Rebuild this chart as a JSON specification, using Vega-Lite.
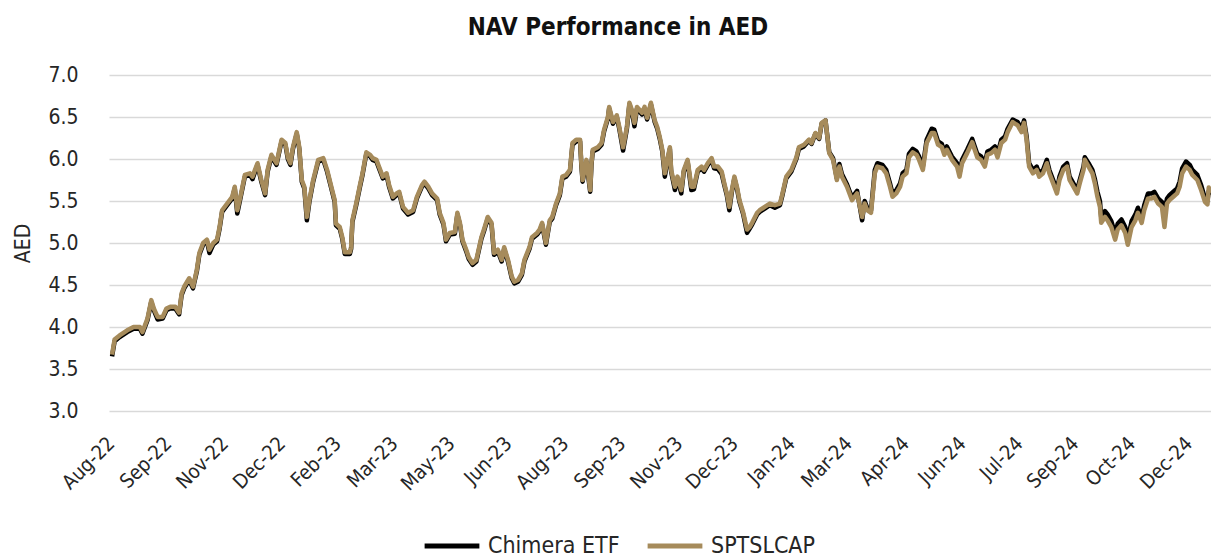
{
  "$schema": "https://vega.github.io/schema/vega-lite/v6.json",
  "width": 1102,
  "height": 336,
  "autosize": {"type": "none"},
  "padding": {"left": 109, "top": 75, "right": 0, "bottom": 147},
  "background": "white",
  "config": {"view": {"stroke": null}, "font": "'DejaVu Sans Condensed', 'DejaVu Sans', sans-serif"},
  "title": {"text": "NAV Performance in AED", "fontSize": 24, "fontWeight": "bold", "color": "#111111", "anchor": "middle", "dx": -42, "offset": 24, "font": "'DejaVu Sans Condensed', 'DejaVu Sans', sans-serif"},
  "data": {"values": [
    {"date": "2022-08-10", "Chimera ETF": 3.65, "SPTSLCAP": 3.67},
    {"date": "2022-08-12", "Chimera ETF": 3.83, "SPTSLCAP": 3.85},
    {"date": "2022-08-16", "Chimera ETF": 3.88, "SPTSLCAP": 3.90},
    {"date": "2022-08-22", "Chimera ETF": 3.94, "SPTSLCAP": 3.96},
    {"date": "2022-08-27", "Chimera ETF": 3.98, "SPTSLCAP": 4.00},
    {"date": "2022-09-01", "Chimera ETF": 3.98, "SPTSLCAP": 4.00},
    {"date": "2022-09-03", "Chimera ETF": 3.92, "SPTSLCAP": 3.94},
    {"date": "2022-09-07", "Chimera ETF": 4.08, "SPTSLCAP": 4.10},
    {"date": "2022-09-10", "Chimera ETF": 4.30, "SPTSLCAP": 4.32},
    {"date": "2022-09-12", "Chimera ETF": 4.20, "SPTSLCAP": 4.22},
    {"date": "2022-09-15", "Chimera ETF": 4.09, "SPTSLCAP": 4.12},
    {"date": "2022-09-19", "Chimera ETF": 4.10, "SPTSLCAP": 4.12},
    {"date": "2022-09-22", "Chimera ETF": 4.20, "SPTSLCAP": 4.22},
    {"date": "2022-09-25", "Chimera ETF": 4.22, "SPTSLCAP": 4.24},
    {"date": "2022-09-29", "Chimera ETF": 4.22, "SPTSLCAP": 4.24},
    {"date": "2022-10-02", "Chimera ETF": 4.15, "SPTSLCAP": 4.17},
    {"date": "2022-10-04", "Chimera ETF": 4.38, "SPTSLCAP": 4.40},
    {"date": "2022-10-06", "Chimera ETF": 4.46, "SPTSLCAP": 4.48},
    {"date": "2022-10-10", "Chimera ETF": 4.56, "SPTSLCAP": 4.58},
    {"date": "2022-10-13", "Chimera ETF": 4.46, "SPTSLCAP": 4.48},
    {"date": "2022-10-16", "Chimera ETF": 4.66, "SPTSLCAP": 4.68},
    {"date": "2022-10-18", "Chimera ETF": 4.86, "SPTSLCAP": 4.88},
    {"date": "2022-10-21", "Chimera ETF": 4.98, "SPTSLCAP": 5.00},
    {"date": "2022-10-24", "Chimera ETF": 5.02, "SPTSLCAP": 5.04},
    {"date": "2022-10-26", "Chimera ETF": 4.88, "SPTSLCAP": 4.92},
    {"date": "2022-10-29", "Chimera ETF": 4.98, "SPTSLCAP": 5.00},
    {"date": "2022-11-01", "Chimera ETF": 5.02, "SPTSLCAP": 5.04},
    {"date": "2022-11-03", "Chimera ETF": 5.17, "SPTSLCAP": 5.19},
    {"date": "2022-11-05", "Chimera ETF": 5.37, "SPTSLCAP": 5.39},
    {"date": "2022-11-09", "Chimera ETF": 5.45, "SPTSLCAP": 5.47},
    {"date": "2022-11-13", "Chimera ETF": 5.53, "SPTSLCAP": 5.55},
    {"date": "2022-11-15", "Chimera ETF": 5.65, "SPTSLCAP": 5.67},
    {"date": "2022-11-17", "Chimera ETF": 5.35, "SPTSLCAP": 5.39},
    {"date": "2022-11-20", "Chimera ETF": 5.57, "SPTSLCAP": 5.59},
    {"date": "2022-11-23", "Chimera ETF": 5.79, "SPTSLCAP": 5.81},
    {"date": "2022-11-27", "Chimera ETF": 5.81, "SPTSLCAP": 5.83},
    {"date": "2022-11-29", "Chimera ETF": 5.76, "SPTSLCAP": 5.79},
    {"date": "2022-12-02", "Chimera ETF": 5.89, "SPTSLCAP": 5.91},
    {"date": "2022-12-03", "Chimera ETF": 5.93, "SPTSLCAP": 5.95},
    {"date": "2022-12-06", "Chimera ETF": 5.73, "SPTSLCAP": 5.75},
    {"date": "2022-12-09", "Chimera ETF": 5.57, "SPTSLCAP": 5.59},
    {"date": "2022-12-11", "Chimera ETF": 5.85, "SPTSLCAP": 5.87},
    {"date": "2022-12-14", "Chimera ETF": 6.03, "SPTSLCAP": 6.05},
    {"date": "2022-12-18", "Chimera ETF": 5.93, "SPTSLCAP": 5.95},
    {"date": "2022-12-22", "Chimera ETF": 6.21, "SPTSLCAP": 6.23},
    {"date": "2022-12-25", "Chimera ETF": 6.17, "SPTSLCAP": 6.19},
    {"date": "2022-12-27", "Chimera ETF": 6.00, "SPTSLCAP": 6.02},
    {"date": "2022-12-29", "Chimera ETF": 5.93, "SPTSLCAP": 5.95},
    {"date": "2022-12-31", "Chimera ETF": 6.12, "SPTSLCAP": 6.14},
    {"date": "2023-01-03", "Chimera ETF": 6.30, "SPTSLCAP": 6.32},
    {"date": "2023-01-05", "Chimera ETF": 6.12, "SPTSLCAP": 6.14},
    {"date": "2023-01-07", "Chimera ETF": 5.73, "SPTSLCAP": 5.75},
    {"date": "2023-01-09", "Chimera ETF": 5.65, "SPTSLCAP": 5.67},
    {"date": "2023-01-11", "Chimera ETF": 5.27, "SPTSLCAP": 5.31},
    {"date": "2023-01-13", "Chimera ETF": 5.49, "SPTSLCAP": 5.51},
    {"date": "2023-01-16", "Chimera ETF": 5.73, "SPTSLCAP": 5.75},
    {"date": "2023-01-20", "Chimera ETF": 5.97, "SPTSLCAP": 5.99},
    {"date": "2023-01-24", "Chimera ETF": 5.99, "SPTSLCAP": 6.01},
    {"date": "2023-01-27", "Chimera ETF": 5.85, "SPTSLCAP": 5.87},
    {"date": "2023-01-31", "Chimera ETF": 5.61, "SPTSLCAP": 5.63},
    {"date": "2023-02-02", "Chimera ETF": 5.49, "SPTSLCAP": 5.51},
    {"date": "2023-02-03", "Chimera ETF": 5.21, "SPTSLCAP": 5.23},
    {"date": "2023-02-06", "Chimera ETF": 5.17, "SPTSLCAP": 5.19},
    {"date": "2023-02-08", "Chimera ETF": 5.05, "SPTSLCAP": 5.07},
    {"date": "2023-02-10", "Chimera ETF": 4.87, "SPTSLCAP": 4.89},
    {"date": "2023-02-14", "Chimera ETF": 4.87, "SPTSLCAP": 4.89},
    {"date": "2023-02-15", "Chimera ETF": 4.93, "SPTSLCAP": 4.95},
    {"date": "2023-02-16", "Chimera ETF": 5.25, "SPTSLCAP": 5.27},
    {"date": "2023-02-19", "Chimera ETF": 5.45, "SPTSLCAP": 5.47},
    {"date": "2023-02-22", "Chimera ETF": 5.67, "SPTSLCAP": 5.69},
    {"date": "2023-02-24", "Chimera ETF": 5.81, "SPTSLCAP": 5.83},
    {"date": "2023-02-27", "Chimera ETF": 6.06, "SPTSLCAP": 6.08},
    {"date": "2023-03-02", "Chimera ETF": 6.03, "SPTSLCAP": 6.05},
    {"date": "2023-03-04", "Chimera ETF": 5.99, "SPTSLCAP": 6.01},
    {"date": "2023-03-07", "Chimera ETF": 5.97, "SPTSLCAP": 5.99},
    {"date": "2023-03-09", "Chimera ETF": 5.89, "SPTSLCAP": 5.91},
    {"date": "2023-03-12", "Chimera ETF": 5.77, "SPTSLCAP": 5.79},
    {"date": "2023-03-15", "Chimera ETF": 5.81, "SPTSLCAP": 5.83},
    {"date": "2023-03-17", "Chimera ETF": 5.67, "SPTSLCAP": 5.69},
    {"date": "2023-03-20", "Chimera ETF": 5.53, "SPTSLCAP": 5.55},
    {"date": "2023-03-23", "Chimera ETF": 5.57, "SPTSLCAP": 5.59},
    {"date": "2023-03-25", "Chimera ETF": 5.59, "SPTSLCAP": 5.61},
    {"date": "2023-03-28", "Chimera ETF": 5.41, "SPTSLCAP": 5.43},
    {"date": "2023-04-01", "Chimera ETF": 5.34, "SPTSLCAP": 5.36},
    {"date": "2023-04-05", "Chimera ETF": 5.37, "SPTSLCAP": 5.39},
    {"date": "2023-04-08", "Chimera ETF": 5.53, "SPTSLCAP": 5.55},
    {"date": "2023-04-12", "Chimera ETF": 5.67, "SPTSLCAP": 5.69},
    {"date": "2023-04-14", "Chimera ETF": 5.71, "SPTSLCAP": 5.73},
    {"date": "2023-04-17", "Chimera ETF": 5.65, "SPTSLCAP": 5.67},
    {"date": "2023-04-20", "Chimera ETF": 5.57, "SPTSLCAP": 5.59},
    {"date": "2023-04-24", "Chimera ETF": 5.51, "SPTSLCAP": 5.53},
    {"date": "2023-04-26", "Chimera ETF": 5.34, "SPTSLCAP": 5.36},
    {"date": "2023-04-29", "Chimera ETF": 5.22, "SPTSLCAP": 5.24},
    {"date": "2023-05-01", "Chimera ETF": 5.02, "SPTSLCAP": 5.04},
    {"date": "2023-05-04", "Chimera ETF": 5.10, "SPTSLCAP": 5.12},
    {"date": "2023-05-08", "Chimera ETF": 5.11, "SPTSLCAP": 5.13},
    {"date": "2023-05-10", "Chimera ETF": 5.34, "SPTSLCAP": 5.36},
    {"date": "2023-05-12", "Chimera ETF": 5.22, "SPTSLCAP": 5.24},
    {"date": "2023-05-14", "Chimera ETF": 5.02, "SPTSLCAP": 5.04},
    {"date": "2023-05-17", "Chimera ETF": 4.90, "SPTSLCAP": 4.92},
    {"date": "2023-05-19", "Chimera ETF": 4.81, "SPTSLCAP": 4.83},
    {"date": "2023-05-22", "Chimera ETF": 4.74, "SPTSLCAP": 4.76},
    {"date": "2023-05-25", "Chimera ETF": 4.78, "SPTSLCAP": 4.80},
    {"date": "2023-05-29", "Chimera ETF": 5.05, "SPTSLCAP": 5.07},
    {"date": "2023-05-31", "Chimera ETF": 5.14, "SPTSLCAP": 5.16},
    {"date": "2023-06-03", "Chimera ETF": 5.29, "SPTSLCAP": 5.31},
    {"date": "2023-06-06", "Chimera ETF": 5.22, "SPTSLCAP": 5.24},
    {"date": "2023-06-08", "Chimera ETF": 4.86, "SPTSLCAP": 4.88},
    {"date": "2023-06-11", "Chimera ETF": 4.90, "SPTSLCAP": 4.92},
    {"date": "2023-06-14", "Chimera ETF": 4.78, "SPTSLCAP": 4.80},
    {"date": "2023-06-16", "Chimera ETF": 4.93, "SPTSLCAP": 4.95},
    {"date": "2023-06-19", "Chimera ETF": 4.78, "SPTSLCAP": 4.80},
    {"date": "2023-06-22", "Chimera ETF": 4.58, "SPTSLCAP": 4.60},
    {"date": "2023-06-24", "Chimera ETF": 4.52, "SPTSLCAP": 4.54},
    {"date": "2023-06-27", "Chimera ETF": 4.54, "SPTSLCAP": 4.56},
    {"date": "2023-06-30", "Chimera ETF": 4.62, "SPTSLCAP": 4.64},
    {"date": "2023-07-02", "Chimera ETF": 4.78, "SPTSLCAP": 4.80},
    {"date": "2023-07-06", "Chimera ETF": 4.93, "SPTSLCAP": 4.95},
    {"date": "2023-07-08", "Chimera ETF": 5.05, "SPTSLCAP": 5.07},
    {"date": "2023-07-12", "Chimera ETF": 5.10, "SPTSLCAP": 5.12},
    {"date": "2023-07-14", "Chimera ETF": 5.14, "SPTSLCAP": 5.16},
    {"date": "2023-07-16", "Chimera ETF": 5.22, "SPTSLCAP": 5.24},
    {"date": "2023-07-19", "Chimera ETF": 4.98, "SPTSLCAP": 5.00},
    {"date": "2023-07-22", "Chimera ETF": 5.25, "SPTSLCAP": 5.27},
    {"date": "2023-07-24", "Chimera ETF": 5.29, "SPTSLCAP": 5.31},
    {"date": "2023-07-27", "Chimera ETF": 5.45, "SPTSLCAP": 5.47},
    {"date": "2023-07-30", "Chimera ETF": 5.57, "SPTSLCAP": 5.59},
    {"date": "2023-08-01", "Chimera ETF": 5.77, "SPTSLCAP": 5.79},
    {"date": "2023-08-04", "Chimera ETF": 5.79, "SPTSLCAP": 5.81},
    {"date": "2023-08-07", "Chimera ETF": 5.85, "SPTSLCAP": 5.87},
    {"date": "2023-08-09", "Chimera ETF": 6.17, "SPTSLCAP": 6.19},
    {"date": "2023-08-12", "Chimera ETF": 6.21, "SPTSLCAP": 6.23},
    {"date": "2023-08-15", "Chimera ETF": 6.21, "SPTSLCAP": 6.23},
    {"date": "2023-08-16", "Chimera ETF": 5.93, "SPTSLCAP": 5.95},
    {"date": "2023-08-17", "Chimera ETF": 5.73, "SPTSLCAP": 5.75},
    {"date": "2023-08-20", "Chimera ETF": 5.97, "SPTSLCAP": 5.99},
    {"date": "2023-08-23", "Chimera ETF": 5.61, "SPTSLCAP": 5.63},
    {"date": "2023-08-24", "Chimera ETF": 5.93, "SPTSLCAP": 5.95},
    {"date": "2023-08-25", "Chimera ETF": 6.09, "SPTSLCAP": 6.11},
    {"date": "2023-08-29", "Chimera ETF": 6.12, "SPTSLCAP": 6.14},
    {"date": "2023-09-01", "Chimera ETF": 6.17, "SPTSLCAP": 6.19},
    {"date": "2023-09-03", "Chimera ETF": 6.33, "SPTSLCAP": 6.35},
    {"date": "2023-09-06", "Chimera ETF": 6.48, "SPTSLCAP": 6.50},
    {"date": "2023-09-07", "Chimera ETF": 6.60, "SPTSLCAP": 6.62},
    {"date": "2023-09-10", "Chimera ETF": 6.42, "SPTSLCAP": 6.44},
    {"date": "2023-09-13", "Chimera ETF": 6.50, "SPTSLCAP": 6.52},
    {"date": "2023-09-15", "Chimera ETF": 6.36, "SPTSLCAP": 6.38},
    {"date": "2023-09-18", "Chimera ETF": 6.10, "SPTSLCAP": 6.14},
    {"date": "2023-09-21", "Chimera ETF": 6.36, "SPTSLCAP": 6.38},
    {"date": "2023-09-23", "Chimera ETF": 6.65, "SPTSLCAP": 6.67},
    {"date": "2023-09-25", "Chimera ETF": 6.56, "SPTSLCAP": 6.58},
    {"date": "2023-09-27", "Chimera ETF": 6.39, "SPTSLCAP": 6.43},
    {"date": "2023-09-29", "Chimera ETF": 6.60, "SPTSLCAP": 6.62},
    {"date": "2023-10-03", "Chimera ETF": 6.53, "SPTSLCAP": 6.55},
    {"date": "2023-10-05", "Chimera ETF": 6.60, "SPTSLCAP": 6.62},
    {"date": "2023-10-07", "Chimera ETF": 6.47, "SPTSLCAP": 6.49},
    {"date": "2023-10-10", "Chimera ETF": 6.65, "SPTSLCAP": 6.67},
    {"date": "2023-10-13", "Chimera ETF": 6.44, "SPTSLCAP": 6.46},
    {"date": "2023-10-15", "Chimera ETF": 6.36, "SPTSLCAP": 6.38},
    {"date": "2023-10-17", "Chimera ETF": 6.24, "SPTSLCAP": 6.26},
    {"date": "2023-10-19", "Chimera ETF": 6.09, "SPTSLCAP": 6.11},
    {"date": "2023-10-21", "Chimera ETF": 5.79, "SPTSLCAP": 5.83},
    {"date": "2023-10-23", "Chimera ETF": 5.97, "SPTSLCAP": 5.99},
    {"date": "2023-10-25", "Chimera ETF": 6.12, "SPTSLCAP": 6.14},
    {"date": "2023-10-26", "Chimera ETF": 5.85, "SPTSLCAP": 5.87},
    {"date": "2023-10-29", "Chimera ETF": 5.63, "SPTSLCAP": 5.67},
    {"date": "2023-10-31", "Chimera ETF": 5.77, "SPTSLCAP": 5.79},
    {"date": "2023-11-03", "Chimera ETF": 5.59, "SPTSLCAP": 5.63},
    {"date": "2023-11-05", "Chimera ETF": 5.85, "SPTSLCAP": 5.87},
    {"date": "2023-11-08", "Chimera ETF": 5.97, "SPTSLCAP": 5.99},
    {"date": "2023-11-11", "Chimera ETF": 5.63, "SPTSLCAP": 5.67},
    {"date": "2023-11-13", "Chimera ETF": 5.64, "SPTSLCAP": 5.67},
    {"date": "2023-11-16", "Chimera ETF": 5.85, "SPTSLCAP": 5.87},
    {"date": "2023-11-19", "Chimera ETF": 5.89, "SPTSLCAP": 5.91},
    {"date": "2023-11-21", "Chimera ETF": 5.85, "SPTSLCAP": 5.87},
    {"date": "2023-11-24", "Chimera ETF": 5.93, "SPTSLCAP": 5.95},
    {"date": "2023-11-27", "Chimera ETF": 5.99, "SPTSLCAP": 6.01},
    {"date": "2023-11-29", "Chimera ETF": 5.89, "SPTSLCAP": 5.91},
    {"date": "2023-12-02", "Chimera ETF": 5.88, "SPTSLCAP": 5.91},
    {"date": "2023-12-05", "Chimera ETF": 5.82, "SPTSLCAP": 5.85},
    {"date": "2023-12-07", "Chimera ETF": 5.69, "SPTSLCAP": 5.71},
    {"date": "2023-12-09", "Chimera ETF": 5.57, "SPTSLCAP": 5.59},
    {"date": "2023-12-11", "Chimera ETF": 5.39, "SPTSLCAP": 5.43},
    {"date": "2023-12-13", "Chimera ETF": 5.61, "SPTSLCAP": 5.63},
    {"date": "2023-12-15", "Chimera ETF": 5.77, "SPTSLCAP": 5.79},
    {"date": "2023-12-17", "Chimera ETF": 5.65, "SPTSLCAP": 5.67},
    {"date": "2023-12-19", "Chimera ETF": 5.49, "SPTSLCAP": 5.51},
    {"date": "2023-12-22", "Chimera ETF": 5.34, "SPTSLCAP": 5.36},
    {"date": "2023-12-25", "Chimera ETF": 5.12, "SPTSLCAP": 5.16},
    {"date": "2023-12-27", "Chimera ETF": 5.17, "SPTSLCAP": 5.19},
    {"date": "2023-12-29", "Chimera ETF": 5.22, "SPTSLCAP": 5.24},
    {"date": "2024-01-02", "Chimera ETF": 5.34, "SPTSLCAP": 5.36},
    {"date": "2024-01-04", "Chimera ETF": 5.37, "SPTSLCAP": 5.39},
    {"date": "2024-01-08", "Chimera ETF": 5.41, "SPTSLCAP": 5.43},
    {"date": "2024-01-12", "Chimera ETF": 5.45, "SPTSLCAP": 5.47},
    {"date": "2024-01-16", "Chimera ETF": 5.42, "SPTSLCAP": 5.45},
    {"date": "2024-01-20", "Chimera ETF": 5.45, "SPTSLCAP": 5.47},
    {"date": "2024-01-22", "Chimera ETF": 5.57, "SPTSLCAP": 5.59},
    {"date": "2024-01-25", "Chimera ETF": 5.77, "SPTSLCAP": 5.79},
    {"date": "2024-01-29", "Chimera ETF": 5.85, "SPTSLCAP": 5.87},
    {"date": "2024-02-02", "Chimera ETF": 6.00, "SPTSLCAP": 6.02},
    {"date": "2024-02-04", "Chimera ETF": 6.12, "SPTSLCAP": 6.14},
    {"date": "2024-02-08", "Chimera ETF": 6.15, "SPTSLCAP": 6.17},
    {"date": "2024-02-12", "Chimera ETF": 6.22, "SPTSLCAP": 6.23},
    {"date": "2024-02-14", "Chimera ETF": 6.18, "SPTSLCAP": 6.19},
    {"date": "2024-02-17", "Chimera ETF": 6.30, "SPTSLCAP": 6.31},
    {"date": "2024-02-20", "Chimera ETF": 6.24, "SPTSLCAP": 6.25},
    {"date": "2024-02-22", "Chimera ETF": 6.42, "SPTSLCAP": 6.43},
    {"date": "2024-02-25", "Chimera ETF": 6.46, "SPTSLCAP": 6.46},
    {"date": "2024-02-28", "Chimera ETF": 6.08, "SPTSLCAP": 6.07},
    {"date": "2024-03-02", "Chimera ETF": 6.01, "SPTSLCAP": 5.99},
    {"date": "2024-03-05", "Chimera ETF": 5.77, "SPTSLCAP": 5.75},
    {"date": "2024-03-07", "Chimera ETF": 5.94, "SPTSLCAP": 5.91},
    {"date": "2024-03-09", "Chimera ETF": 5.82, "SPTSLCAP": 5.79},
    {"date": "2024-03-13", "Chimera ETF": 5.70, "SPTSLCAP": 5.67},
    {"date": "2024-03-15", "Chimera ETF": 5.62, "SPTSLCAP": 5.59},
    {"date": "2024-03-17", "Chimera ETF": 5.54, "SPTSLCAP": 5.51},
    {"date": "2024-03-21", "Chimera ETF": 5.62, "SPTSLCAP": 5.59},
    {"date": "2024-03-25", "Chimera ETF": 5.27, "SPTSLCAP": 5.31},
    {"date": "2024-03-27", "Chimera ETF": 5.50, "SPTSLCAP": 5.47},
    {"date": "2024-03-29", "Chimera ETF": 5.42, "SPTSLCAP": 5.39},
    {"date": "2024-04-01", "Chimera ETF": 5.39, "SPTSLCAP": 5.36},
    {"date": "2024-04-04", "Chimera ETF": 5.87, "SPTSLCAP": 5.83},
    {"date": "2024-04-06", "Chimera ETF": 5.95, "SPTSLCAP": 5.91},
    {"date": "2024-04-10", "Chimera ETF": 5.93, "SPTSLCAP": 5.89},
    {"date": "2024-04-13", "Chimera ETF": 5.87, "SPTSLCAP": 5.83},
    {"date": "2024-04-16", "Chimera ETF": 5.71, "SPTSLCAP": 5.67},
    {"date": "2024-04-18", "Chimera ETF": 5.59, "SPTSLCAP": 5.55},
    {"date": "2024-04-21", "Chimera ETF": 5.63, "SPTSLCAP": 5.59},
    {"date": "2024-04-24", "Chimera ETF": 5.71, "SPTSLCAP": 5.67},
    {"date": "2024-04-26", "Chimera ETF": 5.83, "SPTSLCAP": 5.79},
    {"date": "2024-04-29", "Chimera ETF": 5.87, "SPTSLCAP": 5.83},
    {"date": "2024-05-01", "Chimera ETF": 6.06, "SPTSLCAP": 6.02},
    {"date": "2024-05-04", "Chimera ETF": 6.12, "SPTSLCAP": 6.08},
    {"date": "2024-05-07", "Chimera ETF": 6.09, "SPTSLCAP": 6.05},
    {"date": "2024-05-09", "Chimera ETF": 6.03, "SPTSLCAP": 5.99},
    {"date": "2024-05-12", "Chimera ETF": 5.91, "SPTSLCAP": 5.87},
    {"date": "2024-05-15", "Chimera ETF": 6.23, "SPTSLCAP": 6.19},
    {"date": "2024-05-19", "Chimera ETF": 6.36, "SPTSLCAP": 6.31},
    {"date": "2024-05-21", "Chimera ETF": 6.35, "SPTSLCAP": 6.31},
    {"date": "2024-05-24", "Chimera ETF": 6.21, "SPTSLCAP": 6.17},
    {"date": "2024-05-27", "Chimera ETF": 6.18, "SPTSLCAP": 6.14},
    {"date": "2024-05-29", "Chimera ETF": 6.09, "SPTSLCAP": 6.05},
    {"date": "2024-05-31", "Chimera ETF": 6.15, "SPTSLCAP": 6.11},
    {"date": "2024-06-04", "Chimera ETF": 6.03, "SPTSLCAP": 5.99},
    {"date": "2024-06-08", "Chimera ETF": 5.95, "SPTSLCAP": 5.91},
    {"date": "2024-06-10", "Chimera ETF": 5.83, "SPTSLCAP": 5.79},
    {"date": "2024-06-12", "Chimera ETF": 5.99, "SPTSLCAP": 5.95},
    {"date": "2024-06-16", "Chimera ETF": 6.11, "SPTSLCAP": 6.07},
    {"date": "2024-06-20", "Chimera ETF": 6.24, "SPTSLCAP": 6.20},
    {"date": "2024-06-22", "Chimera ETF": 6.15, "SPTSLCAP": 6.11},
    {"date": "2024-06-24", "Chimera ETF": 6.06, "SPTSLCAP": 6.02},
    {"date": "2024-06-27", "Chimera ETF": 6.03, "SPTSLCAP": 5.99},
    {"date": "2024-06-30", "Chimera ETF": 5.95, "SPTSLCAP": 5.91},
    {"date": "2024-07-02", "Chimera ETF": 6.09, "SPTSLCAP": 6.05},
    {"date": "2024-07-05", "Chimera ETF": 6.11, "SPTSLCAP": 6.07},
    {"date": "2024-07-08", "Chimera ETF": 6.15, "SPTSLCAP": 6.11},
    {"date": "2024-07-10", "Chimera ETF": 6.06, "SPTSLCAP": 6.02},
    {"date": "2024-07-13", "Chimera ETF": 6.23, "SPTSLCAP": 6.19},
    {"date": "2024-07-16", "Chimera ETF": 6.27, "SPTSLCAP": 6.23},
    {"date": "2024-07-18", "Chimera ETF": 6.36, "SPTSLCAP": 6.32},
    {"date": "2024-07-22", "Chimera ETF": 6.47, "SPTSLCAP": 6.44},
    {"date": "2024-07-26", "Chimera ETF": 6.44, "SPTSLCAP": 6.40},
    {"date": "2024-07-29", "Chimera ETF": 6.36, "SPTSLCAP": 6.32},
    {"date": "2024-07-31", "Chimera ETF": 6.46, "SPTSLCAP": 6.43},
    {"date": "2024-08-02", "Chimera ETF": 6.27, "SPTSLCAP": 6.23},
    {"date": "2024-08-04", "Chimera ETF": 5.95, "SPTSLCAP": 5.91},
    {"date": "2024-08-07", "Chimera ETF": 5.87, "SPTSLCAP": 5.83},
    {"date": "2024-08-10", "Chimera ETF": 5.91, "SPTSLCAP": 5.87},
    {"date": "2024-08-12", "Chimera ETF": 5.83, "SPTSLCAP": 5.79},
    {"date": "2024-08-15", "Chimera ETF": 5.87, "SPTSLCAP": 5.83},
    {"date": "2024-08-18", "Chimera ETF": 5.99, "SPTSLCAP": 5.95},
    {"date": "2024-08-20", "Chimera ETF": 5.87, "SPTSLCAP": 5.83},
    {"date": "2024-08-23", "Chimera ETF": 5.75, "SPTSLCAP": 5.71},
    {"date": "2024-08-26", "Chimera ETF": 5.63, "SPTSLCAP": 5.59},
    {"date": "2024-08-28", "Chimera ETF": 5.79, "SPTSLCAP": 5.75},
    {"date": "2024-08-31", "Chimera ETF": 5.91, "SPTSLCAP": 5.87},
    {"date": "2024-09-03", "Chimera ETF": 5.95, "SPTSLCAP": 5.91},
    {"date": "2024-09-05", "Chimera ETF": 5.79, "SPTSLCAP": 5.75},
    {"date": "2024-09-08", "Chimera ETF": 5.71, "SPTSLCAP": 5.67},
    {"date": "2024-09-11", "Chimera ETF": 5.63, "SPTSLCAP": 5.59},
    {"date": "2024-09-13", "Chimera ETF": 5.75, "SPTSLCAP": 5.71},
    {"date": "2024-09-16", "Chimera ETF": 5.91, "SPTSLCAP": 5.87},
    {"date": "2024-09-17", "Chimera ETF": 6.02, "SPTSLCAP": 5.99},
    {"date": "2024-09-20", "Chimera ETF": 5.95, "SPTSLCAP": 5.91},
    {"date": "2024-09-23", "Chimera ETF": 5.87, "SPTSLCAP": 5.83},
    {"date": "2024-09-25", "Chimera ETF": 5.76, "SPTSLCAP": 5.71},
    {"date": "2024-09-27", "Chimera ETF": 5.61, "SPTSLCAP": 5.55},
    {"date": "2024-09-29", "Chimera ETF": 5.50, "SPTSLCAP": 5.43},
    {"date": "2024-09-30", "Chimera ETF": 5.31, "SPTSLCAP": 5.24},
    {"date": "2024-10-03", "Chimera ETF": 5.38, "SPTSLCAP": 5.31},
    {"date": "2024-10-05", "Chimera ETF": 5.34, "SPTSLCAP": 5.27},
    {"date": "2024-10-08", "Chimera ETF": 5.26, "SPTSLCAP": 5.19},
    {"date": "2024-10-11", "Chimera ETF": 5.11, "SPTSLCAP": 5.04},
    {"date": "2024-10-13", "Chimera ETF": 5.23, "SPTSLCAP": 5.16},
    {"date": "2024-10-16", "Chimera ETF": 5.28, "SPTSLCAP": 5.21},
    {"date": "2024-10-19", "Chimera ETF": 5.19, "SPTSLCAP": 5.12},
    {"date": "2024-10-21", "Chimera ETF": 5.05, "SPTSLCAP": 4.98},
    {"date": "2024-10-24", "Chimera ETF": 5.26, "SPTSLCAP": 5.19},
    {"date": "2024-10-27", "Chimera ETF": 5.34, "SPTSLCAP": 5.27},
    {"date": "2024-10-29", "Chimera ETF": 5.42, "SPTSLCAP": 5.36},
    {"date": "2024-11-01", "Chimera ETF": 5.30, "SPTSLCAP": 5.24},
    {"date": "2024-11-03", "Chimera ETF": 5.45, "SPTSLCAP": 5.39},
    {"date": "2024-11-06", "Chimera ETF": 5.59, "SPTSLCAP": 5.53},
    {"date": "2024-11-09", "Chimera ETF": 5.59, "SPTSLCAP": 5.53},
    {"date": "2024-11-11", "Chimera ETF": 5.61, "SPTSLCAP": 5.55},
    {"date": "2024-11-14", "Chimera ETF": 5.53, "SPTSLCAP": 5.47},
    {"date": "2024-11-17", "Chimera ETF": 5.49, "SPTSLCAP": 5.43},
    {"date": "2024-11-19", "Chimera ETF": 5.36, "SPTSLCAP": 5.19},
    {"date": "2024-11-21", "Chimera ETF": 5.53, "SPTSLCAP": 5.47},
    {"date": "2024-11-23", "Chimera ETF": 5.57, "SPTSLCAP": 5.51},
    {"date": "2024-11-26", "Chimera ETF": 5.61, "SPTSLCAP": 5.55},
    {"date": "2024-11-29", "Chimera ETF": 5.65, "SPTSLCAP": 5.59},
    {"date": "2024-12-01", "Chimera ETF": 5.73, "SPTSLCAP": 5.67},
    {"date": "2024-12-03", "Chimera ETF": 5.89, "SPTSLCAP": 5.83},
    {"date": "2024-12-06", "Chimera ETF": 5.97, "SPTSLCAP": 5.91},
    {"date": "2024-12-09", "Chimera ETF": 5.93, "SPTSLCAP": 5.87},
    {"date": "2024-12-11", "Chimera ETF": 5.87, "SPTSLCAP": 5.81},
    {"date": "2024-12-15", "Chimera ETF": 5.81, "SPTSLCAP": 5.75},
    {"date": "2024-12-18", "Chimera ETF": 5.69, "SPTSLCAP": 5.63},
    {"date": "2024-12-21", "Chimera ETF": 5.53, "SPTSLCAP": 5.49},
    {"date": "2024-12-23", "Chimera ETF": 5.50, "SPTSLCAP": 5.46},
    {"date": "2024-12-24", "Chimera ETF": 5.62, "SPTSLCAP": 5.66},
    {"date": "2024-12-26", "Chimera ETF": 5.58, "SPTSLCAP": 5.60}
  ]},
  "transform": [{"fold": ["Chimera ETF", "SPTSLCAP"], "as": ["series", "value"]}],
  "mark": {"type": "line", "strokeWidth": 4.5, "clip": true, "strokeJoin": "round"},
  "encoding": {
    "x": {
      "field": "date",
      "type": "temporal",
      "scale": {"type": "utc", "domain": [
        {"year": 2022, "month": 8, "date": 7, "hours": 14, "utc": true},
        {"year": 2024, "month": 12, "date": 25, "hours": 19, "utc": true}
      ]},
      "axis": {
        "values": [
          {"year": 2022, "month": 8, "date": 10, "utc": true},
          {"year": 2022, "month": 9, "date": 24, "utc": true},
          {"year": 2022, "month": 11, "date": 8, "utc": true},
          {"year": 2022, "month": 12, "date": 23, "utc": true},
          {"year": 2023, "month": 2, "date": 5, "utc": true},
          {"year": 2023, "month": 3, "date": 22, "utc": true},
          {"year": 2023, "month": 5, "date": 6, "utc": true},
          {"year": 2023, "month": 6, "date": 20, "utc": true},
          {"year": 2023, "month": 8, "date": 4, "utc": true},
          {"year": 2023, "month": 9, "date": 18, "utc": true},
          {"year": 2023, "month": 11, "date": 2, "utc": true},
          {"year": 2023, "month": 12, "date": 16, "utc": true},
          {"year": 2024, "month": 1, "date": 30, "utc": true},
          {"year": 2024, "month": 3, "date": 15, "utc": true},
          {"year": 2024, "month": 4, "date": 29, "utc": true},
          {"year": 2024, "month": 6, "date": 13, "utc": true},
          {"year": 2024, "month": 7, "date": 28, "utc": true},
          {"year": 2024, "month": 9, "date": 10, "utc": true},
          {"year": 2024, "month": 10, "date": 25, "utc": true},
          {"year": 2024, "month": 12, "date": 9, "utc": true}
        ],
        "format": "%b-%y",
        "labelAngle": -45,
        "labelFontSize": 20,
        "labelColor": "#262626",
        "labelOverlap": false,
        "labelFlush": false,
        "labelOffset": -8,
        "grid": false,
        "ticks": false,
        "tickSize": 0,
        "domain": false,
        "labelPadding": 22,
        "title": null
      }
    },
    "y": {
      "field": "value",
      "type": "quantitative",
      "scale": {"domain": [3, 7], "nice": false, "zero": false},
      "axis": {
        "values": [3, 3.5, 4, 4.5, 5, 5.5, 6, 6.5, 7],
        "format": ".1f",
        "labelFontSize": 21,
        "labelColor": "#262626",
        "ticks": false,
        "tickSize": 0,
        "domain": false,
        "gridColor": "#D9D9D9",
        "gridWidth": 1.5,
        "labelPadding": 31,
        "title": "AED",
        "titleFontSize": 21,
        "titleFontWeight": "normal",
        "titleColor": "#262626",
        "titlePadding": 14
      }
    },
    "color": {
      "field": "series",
      "type": "nominal",
      "scale": {"domain": ["Chimera ETF", "SPTSLCAP"], "range": ["#000000", "#A68B5B"]},
      "legend": {
        "orient": "none",
        "legendX": 313,
        "legendY": 441,
        "direction": "horizontal",
        "title": null,
        "symbolType": "stroke",
        "symbolSize": 3000,
        "symbolStrokeWidth": 5,
        "labelFontSize": 23,
        "labelColor": "#262626",
        "labelOffset": 6,
        "columnPadding": 17
      }
    }
  }
}
